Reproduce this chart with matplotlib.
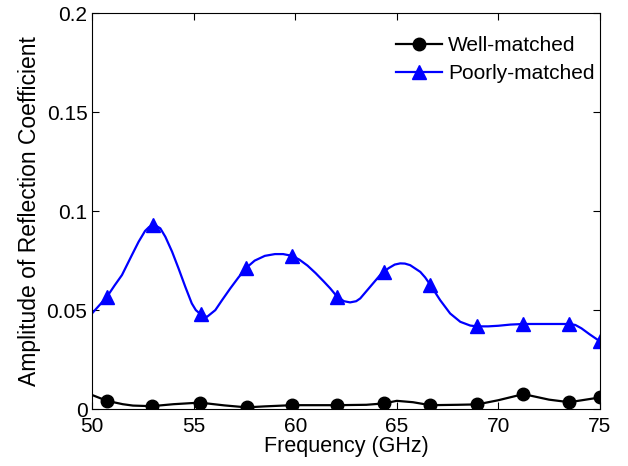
import numpy as np
import matplotlib
matplotlib.use("Agg")
import matplotlib.pyplot as plt

plt.rcParams['font.family'] = ['Liberation Sans', 'DejaVu Sans']

# Poorly-matched (blue) curve
poor_x = [50.0, 50.72, 51.1, 51.46, 51.95, 52.28, 52.6, 52.8, 52.98, 53.15, 53.35, 53.6, 53.93, 54.25,
          54.58, 54.9, 55.1, 55.35, 55.65, 56.06, 56.39, 56.8, 57.2, 57.57, 58.0, 58.5, 59.0, 59.4,
          59.84, 60.2, 60.6, 61.0, 61.4, 61.72, 62.06, 62.4, 62.7, 63.0, 63.2, 63.69, 64.18,
          64.38, 64.6, 64.9, 65.17, 65.4, 65.66, 66.16, 66.4, 66.65, 67.14, 67.63, 68.13, 68.62,
          68.97, 69.5, 70.0, 70.6, 71.24, 72.0, 73.0, 73.5, 73.8, 74.1, 74.5, 75.0]
poor_y = [0.0485, 0.0567, 0.0625, 0.0677, 0.0778, 0.0845, 0.0900, 0.0920, 0.0928, 0.0925, 0.0913, 0.0870,
          0.0795, 0.0710, 0.0618, 0.0534, 0.0500, 0.0478, 0.0466, 0.0500, 0.0550, 0.0610, 0.0665, 0.0712,
          0.0750, 0.0774, 0.0783, 0.0783, 0.0774, 0.0755, 0.0725, 0.0687, 0.0645, 0.0610, 0.0568, 0.0545,
          0.0539, 0.0545, 0.0559, 0.0618, 0.0677, 0.0695, 0.0712, 0.0730, 0.0736, 0.0735, 0.0727,
          0.0693, 0.0665, 0.0628, 0.0550, 0.0483, 0.0441, 0.0422, 0.0418, 0.0418, 0.0421, 0.0427,
          0.0430, 0.0430, 0.0430, 0.0430, 0.0425, 0.0408, 0.0378, 0.0343]
poor_marker_x = [50.72, 52.98, 55.35, 57.57, 59.84, 62.06, 64.38, 66.65, 68.97, 71.24, 73.5, 75.0]

# Well-matched (black) curve
well_x = [50.0, 50.72, 51.5, 52.0, 52.93, 54.0, 55.3, 56.5, 57.6, 58.5, 59.84, 61.0, 62.06,
          63.5, 64.38, 65.0, 65.8, 66.65, 68.0, 68.97, 70.0, 71.24, 72.5, 73.5, 75.0]
well_y = [0.0071, 0.0042, 0.0025, 0.0018, 0.0015, 0.0025, 0.0033, 0.0019, 0.0009, 0.0014, 0.0020, 0.0020, 0.0020,
          0.0022, 0.0029, 0.0042, 0.0035, 0.0020, 0.0022, 0.0024, 0.0045, 0.0076, 0.0048, 0.0035, 0.0059]
well_marker_x = [50.72, 52.93, 55.3, 57.6, 59.84, 62.06, 64.38, 66.65, 68.97, 71.24, 73.5, 75.0]

x_ticks = [50, 55, 60, 65, 70, 75]
y_ticks = [0, 0.05, 0.1, 0.15, 0.2]
y_tick_labels = ['0', '0.05', '0.1', '0.15', '0.2']

fig = plt.figure(figsize=(6.28, 4.66), dpi=100)
ax = fig.add_axes([0.147, 0.122, 0.808, 0.850])

well_idx = [int(i) for i in np.where(np.isin(well_x, well_marker_x))[0]]
poor_idx = [int(i) for i in np.where(np.isin(poor_x, poor_marker_x))[0]]

ax.plot(well_x, well_y, color='black', lw=1.6, marker='o', ms=9,
        markevery=well_idx, label='Well-matched', solid_joinstyle='round')
ax.plot(poor_x, poor_y, color='#0000ff', lw=1.6, marker='^', ms=10,
        markevery=poor_idx, label='Poorly-matched', solid_joinstyle='round')

ax.set_xlim(50, 75)
ax.set_ylim(0, 0.2)
ax.set_xticks(x_ticks)
ax.set_yticks(y_ticks)
ax.set_yticklabels(y_tick_labels)
ax.tick_params(direction='in', top=True, right=True, length=5, labelsize=15, width=0.8)
ax.tick_params(axis='x', pad=6)
for s in ax.spines.values():
    s.set_linewidth(0.8)
ax.set_xlabel('Frequency (GHz)', fontsize=15.5, labelpad=0)
ax.set_ylabel('Amplitude of Reflection Coefficient', fontsize=16.5, labelpad=4)

leg = ax.legend(loc='upper right', bbox_to_anchor=(1.0, 0.955), frameon=False, fontsize=15,
                handlelength=2.2, borderaxespad=0.0, borderpad=0.25, labelspacing=0.45,
                handletextpad=0.3)

fig.savefig('out.png', dpi=100)
